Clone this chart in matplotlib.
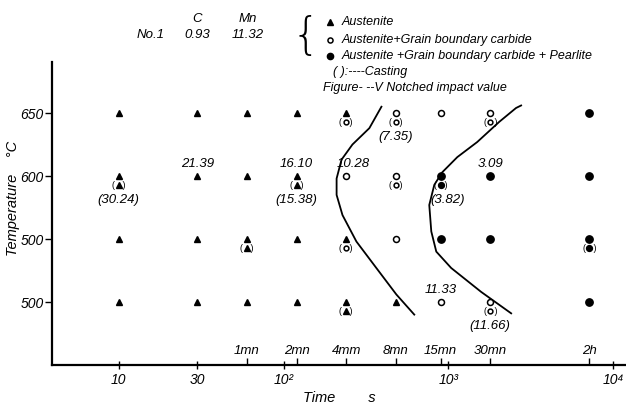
import numpy as np
import matplotlib.pyplot as plt
import matplotlib.ticker as mticker
from matplotlib.lines import Line2D
from matplotlib.transforms import offset_copy

plt.rcParams['font.family'] = ['Liberation Sans', 'DejaVu Sans']
plt.rcParams['font.style'] = 'italic'

# holding times (s) and temperatures (C)
times = [10, 30, 60, 120, 240, 480, 900, 1800, 7200]
temps = [650, 600, 550, 500]

# structure: A = austenite, C = + grain boundary carbide, P = + pearlite
phase_650 = ['A', 'A', 'A', 'A', 'A', 'C', 'C', 'C', 'P']
phase_600 = ['A', 'A', 'A', 'A', 'C', 'C', 'P', 'P', 'P']
phase_550 = ['A', 'A', 'A', 'A', 'A', 'C', 'P', 'P', 'P']
phase_500 = ['A', 'A', 'A', 'A', 'A', 'A', 'C', 'C', 'P']

# casting (in brackets), '' = none
cast_650 = ['', '', '', '', 'C', 'C', '', 'C', '']
cast_600 = ['A', '', '', 'A', '', 'C', 'P', '', '']
cast_550 = ['', '', 'A', '', 'C', '', '', '', 'P']
cast_500 = ['', '', '', '', 'A', '', '', 'C', '']

# V notched impact values
impact_t = [30, 120, 240, 1800, 900]
impact_T = [600, 600, 600, 600, 500]
impact_txt = ['21.39', '16.10', '10.28', '3.09', '11.33']

cast_val_t = [10, 120, 480, 900, 1800]
cast_val_T = [600, 600, 650, 600, 500]
cast_val_txt = ['(30.24)', '(15.38)', '(7.35)', '(3.82)', '(11.66)']

# boundary curves
curve1_t = [393, 332, 262, 225, 210, 210, 228, 277, 366, 484, 622]
curve1_T = [655, 638, 625, 613, 598, 585, 569, 548, 527, 506, 490]
curve2_t = [2770, 2580, 2040, 1500, 1135, 920, 823, 767, 789, 846, 1042, 1585, 2410]
curve2_T = [656, 654, 643, 627, 615, 603, 593, 577, 556, 540, 527, 508, 491]

styles = {
    'A': dict(marker='^', ms=5, mfc='k', mec='k'),
    'C': dict(marker='o', ms=4.3, mfc='white', mec='k', mew=1.1),
    'P': dict(marker='o', ms=5.3, mfc='k', mec='k'),
}

fig = plt.figure(figsize=(6.26, 4.07), dpi=100)
ax = fig.add_axes([52/626, 42/407, 574/626, 303/407])
ax.set_xscale('log')

cast_trans = offset_copy(ax.transData, fig=fig, x=0, y=-6.5, units='points')

rows = zip(temps, [phase_650, phase_600, phase_550, phase_500],
           [cast_650, cast_600, cast_550, cast_500])
for T, phases, casts in rows:
    for t, p, c in zip(times, phases, casts):
        ax.plot([t], [T], ls='none', zorder=3, **styles[p])
        if c:
            st = dict(styles[c])
            st['ms'] = st['ms'] * 0.8
            ax.plot([t], [T], ls='none', zorder=3, transform=cast_trans, **st)
            ax.annotate('(   )', (t, T), xytext=(0, -6.5), textcoords='offset points',
                        ha='center', va='center', fontsize=6.5, fontstyle='normal')

ax.plot(curve1_t, curve1_T, color='k', lw=1.3)
ax.plot(curve2_t, curve2_T, color='k', lw=1.3)

for t, T, s in zip(impact_t, impact_T, impact_txt):
    dx = 5 if s == '10.28' else 0
    ax.annotate(s, (t, T), xytext=(dx, 9), textcoords='offset points',
                ha='center', va='center', fontsize=9.5)
for t, T, s in zip(cast_val_t, cast_val_T, cast_val_txt):
    dx = 5 if s == '(3.82)' else 0
    ax.annotate(s, (t, T), xytext=(dx, -17), textcoords='offset points',
                ha='center', va='center', fontsize=9.5)

ax.set_xlim(3.93, 1.2e4)
ax.set_ylim(450, 690.5)
for side in ['top', 'right']:
    ax.spines[side].set_visible(False)
for side in ['left', 'bottom']:
    ax.spines[side].set_linewidth(1.6)

ax.set_yticks([500, 550, 600, 650])
ax.set_yticklabels(['500', '500', '600', '650'], fontsize=10)
ax.tick_params(axis='y', direction='out', length=5, width=1, pad=1)

ax.xaxis.set_major_locator(mticker.FixedLocator([10, 30, 100, 1000, 10000]))
ax.xaxis.set_major_formatter(mticker.FixedFormatter(['10', '30', '10²', '10³', '10⁴']))
ax.xaxis.set_minor_locator(mticker.FixedLocator([60, 120, 240, 480, 900, 1800, 7200]))
ax.xaxis.set_minor_formatter(mticker.NullFormatter())
ax.tick_params(axis='x', which='major', direction='inout', length=6, width=1, labelsize=10, pad=3)
ax.tick_params(axis='x', which='minor', direction='in', length=5, width=1)

time_labels = ['1mn', '2mn', '4mm', '8mn', '15mn', '30mn', '2h']
for t, s in zip([60, 120, 240, 480, 900, 1800, 7200], time_labels):
    ax.text(t, 0.025, s, transform=ax.get_xaxis_transform(), ha='center', va='bottom', fontsize=9.5)

ax.set_xlabel('Time        s', fontsize=10.5, labelpad=3)
ax.set_ylabel('Temperature    °C', fontsize=10.5)
ax.yaxis.set_label_coords((20 - 52) / 574, 0.55)

# header
fig.text(151/626, 1 - 35/407, 'No.1', ha='center', va='center', fontsize=9.5)
fig.text(197/626, 1 - 19/407, 'C', ha='center', va='center', fontsize=9.5)
fig.text(197/626, 1 - 35/407, '0.93', ha='center', va='center', fontsize=9.5)
fig.text(248/626, 1 - 19/407, 'Mn', ha='center', va='center', fontsize=9.5)
fig.text(248/626, 1 - 35/407, '11.32', ha='center', va='center', fontsize=9.5)

# legend
fig.text(306/626, 1 - 37/407, '{', ha='center', va='center', fontsize=32,
         fontstyle='normal', fontweight='light', family='DejaVu Sans')
leg_y = [22, 40, 56]
leg_txt = ['Austenite', 'Austenite+Grain boundary carbide',
           'Austenite +Grain boundary carbide + Pearlite']
for y, p, s in zip(leg_y, ['A', 'C', 'P'], leg_txt):
    st = dict(styles[p])
    st['ms'] = st['ms'] * 0.85
    fig.add_artist(Line2D([330/626], [1 - y/407], transform=fig.transFigure, ls='none', **st))
    fig.text(342/626, 1 - y/407, s, ha='left', va='center', fontsize=9)
fig.text(333/626, 1 - 72/407, '( ):----Casting', ha='left', va='center', fontsize=9)
fig.text(323/626, 1 - 88/407, 'Figure- --V Notched impact value', ha='left', va='center', fontsize=9)

fig.savefig('out.png', dpi=100)
